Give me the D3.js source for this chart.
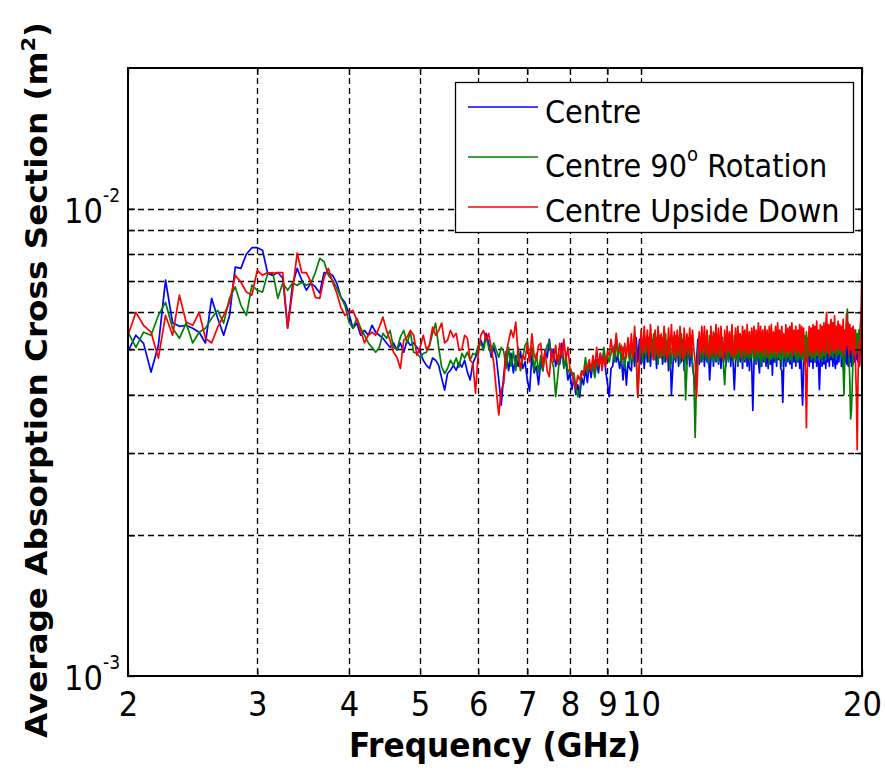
<!DOCTYPE html>
<html>
<head>
<meta charset="utf-8">
<script src="https://cdn.jsdelivr.net/npm/d3@7"></script>
<style>
  html, body { margin: 0; padding: 0; background: #fff; }
  svg { display: block; }
  text { font-family: "DejaVu Sans Condensed", "DejaVu Sans", sans-serif; fill: #000; }
</style>
</head>
<body>
<svg id="chart" width="885" height="771"></svg>
<script>
// Frequency sweep, 2–20 GHz in 0.05 GHz steps
const freqGHz = d3.range(361).map(i => +(2 + i * 0.05).toFixed(2));

// Average absorption cross section, in units of 1e-3 m^2
const centre = [
  4.95, 5.36, 5.15, 4.47, 5.1, 7.03, 5.7, 5.6, 5.63, 5.55, 5.44, 5.16, 6.43, 5.83, 5.36, 5.91, 7.5, 7.45, 8.0, 8.25,
  8.25, 8.15, 7.27, 7.2, 7.3, 7.1, 5.55, 6.86, 7.45, 7.03, 6.69, 6.93, 6.8, 6.6, 7.3, 7.27, 7.2, 6.93, 6.46, 6.3,
  5.97, 5.55, 5.69, 5.36, 5.49, 5.36, 5.63, 5.44,
  5.36, 5.28, 5.16, 5.05, 5.16, 4.98, 5.16, 4.93, 5.23, 5.1, 5.16, 5.05, 4.93, 4.74, 4.62, 4.55, 4.79, 4.74, 4.62, 4.34,
  4.09, 4.44, 4.51, 4.62, 4.51, 4.69, 4.58, 4.74, 4.47, 4.3, 4.67, 4.81, 4.98, 5.23, 5.05, 5.41, 5.16, 4.81, 5.05, 4.81,
  4.3, 3.8,
  4.4, 4.95, 4.5, 4.9, 4.45, 4.85, 4.6, 4.95, 4.55, 4.7, 4.3, 4.07, 4.85, 4.45, 4.6, 4.2, 4.7, 4.5, 5.0, 4.8,
  5.25, 4.8, 5.0, 4.6, 4.85, 4.65, 5.15, 4.6, 4.7, 4.3, 4.45, 4.1, 4.35, 4.0, 4.2, 3.95, 4.35, 4.2, 4.55, 4.25,
  4.65, 4.35, 4.7, 4.4, 4.75, 4.45, 4.9, 4.65, 4.95, 4.5, 4.23, 3.96, 4.55, 4.6, 5.1, 4.7, 4.85, 4.55, 4.8, 4.3,
  4.8, 4.19, 4.7, 4.55,
  4.5, 5.1, 4.6, 5.3, 4.7, 5.25, 4.65, 5.2, 4.55, 5.15,
  4.7, 5.3, 4.6, 5.25, 4.75, 5.2, 4.55, 5.3, 4.8, 5.1,
  4.65, 5.25, 4.7, 5.2, 4.5, 5.1, 4.0, 4.6, 5.2, 4.7,
  5.3, 4.6, 5.15, 4.7, 5.25, 4.5, 5.1, 4.65, 5.2, 4.6,
  5.1, 4.6, 4.4, 4.1, 4.7, 5.25, 4.65, 5.3, 4.7, 5.15,
  4.6, 5.25, 4.7, 5.1, 4.3, 4.75, 5.3, 4.6, 5.2, 4.7,
  5.25, 4.65, 5.15, 4.55, 5.3, 4.7, 5.2, 4.6, 5.25, 4.75,
  5.1, 4.6, 5.2, 4.65, 4.1, 4.7, 5.25, 4.6, 5.3, 4.7,
  5.15, 4.55, 5.25, 4.7, 5.3, 4.6, 5.1, 4.5, 5.2, 4.65,
  3.7, 4.6, 5.2, 4.65, 5.3, 4.7, 4.45, 5.15, 4.6, 5.25,
  4.7, 5.3, 4.6, 5.2, 4.55, 5.25, 4.65, 5.1, 4.4, 5.2,
  4.7, 5.25, 4.6, 5.3, 4.75, 5.15, 4.55, 4.5, 3.85, 4.7,
  5.25, 4.6, 5.2, 4.7, 5.3, 4.65, 5.15, 4.55, 5.25, 4.7,
  5.2, 4.6, 5.3, 4.7, 5.1, 4.55, 5.25, 4.3, 3.8, 4.6,
  5.2, 4.65, 5.3, 4.7, 5.15, 4.6, 5.25, 4.7, 5.2, 4.55,
  5.3, 4.7, 5.1, 4.6, 5.25, 4.65, 4.1, 4.7, 5.2, 4.6,
  5.3, 4.65, 5.25, 4.55, 5.2, 4.7, 5.35, 4.6, 5.15, 4.75,
  5.25, 4.6, 5.3, 4.7, 4.55, 5.2, 4.65, 5.3, 4.7, 5.15,
  5.35, 4.6, 5.2, 4.55, 5.25, 4.7, 5.3, 4.65, 5.2, 4.6,
  5.25, 4.7, 5.35, 4.6, 5.2, 4.65, 5.3, 4.7, 5.15, 4.75,
  5.2, 4.7, 5.3, 4.65, 5.25, 4.9, 5.3
];

const centreRot90 = [
  5.44, 5.05, 5.44, 5.36, 5.91, 6.3, 5.55, 5.28, 5.69, 5.16, 5.44, 5.55, 5.83, 6.06, 5.69, 6.43, 6.8, 6.21, 5.91, 6.86,
  6.69, 6.63, 7.27, 7.3, 6.43, 6.93, 6.69, 6.93, 6.86, 6.96, 6.86, 6.93, 7.3, 7.83, 7.7, 7.2, 7.03, 6.76, 6.46, 6.21,
  5.72, 5.55, 5.83, 5.55, 5.36, 5.16, 5.05, 4.93,
  5.05, 5.41, 5.28, 5.49, 5.05, 5.0, 5.31, 5.49, 5.16, 5.44, 4.93, 4.9, 4.81, 4.9, 4.93, 5.1, 5.41, 5.69, 5.05, 4.58,
  4.44, 4.55, 4.74, 4.62, 4.79, 4.58, 4.9, 4.79, 4.93, 4.74, 4.9, 4.86, 5.1, 5.16, 4.98, 5.31, 5.05, 4.9, 5.16, 4.98,
  4.81, 5.05,
  4.95, 4.55, 5.05, 4.6, 4.95, 4.5, 5.05, 4.5, 4.8, 5.1, 5.2, 4.7, 5.05, 4.5, 4.9, 4.45, 4.85, 4.5, 4.9, 5.1,
  5.2, 4.75, 4.58, 3.96, 4.37, 4.85, 4.95, 4.55, 4.85, 4.45, 4.55, 4.4, 4.45, 4.16, 3.96, 4.1, 4.5, 4.45, 4.8, 4.45,
  4.6, 4.5, 4.65, 4.35, 4.7, 4.6, 4.75, 4.6, 5.05, 4.7, 4.85, 4.7, 4.9, 5.05, 4.7, 5.25, 4.8, 5.15, 4.65, 5.05,
  4.55, 4.95, 5.1, 4.65,
  5.2, 4.7, 5.35, 4.8, 3.95, 4.75, 5.3, 4.7, 5.4, 4.8,
  5.35, 4.7, 5.25, 4.85, 5.4, 4.75, 5.3, 4.65, 5.35, 4.8,
  5.3, 4.7, 5.4, 4.8, 5.25, 4.55, 4.7, 5.3, 4.75, 5.35,
  4.8, 5.3, 4.65, 5.4, 4.75, 5.25, 3.9, 4.6, 5.3, 4.8,
  5.35, 4.7, 4.4, 3.24, 4.3, 4.9, 5.35, 4.7, 5.3, 4.8,
  5.4, 4.75, 5.3, 4.65, 5.35, 4.8, 5.25, 4.7, 5.4, 4.75,
  5.3, 4.7, 5.35, 4.8, 5.25, 4.6, 4.2, 4.75, 5.3, 4.7,
  5.4, 4.8, 5.3, 4.7, 5.35, 4.75, 5.25, 4.65, 5.4, 4.8,
  5.3, 4.7, 5.45, 4.75, 5.3, 4.8, 5.35, 4.7, 5.25, 4.8,
  5.4, 4.75, 5.3, 4.65, 5.35, 4.8, 5.45, 4.6, 5.3, 4.75,
  5.35, 4.7, 5.4, 4.8, 5.3, 4.65, 5.35, 4.75, 5.4, 4.8,
  5.3, 4.7, 5.45, 4.8, 5.35, 4.75, 5.3, 4.6, 5.4, 4.8,
  5.35, 4.7, 5.3, 4.8, 5.45, 4.75, 5.35, 4.7, 5.3, 4.85,
  5.4, 4.75, 5.35, 4.7, 5.45, 4.8, 5.3, 4.75, 5.4, 4.7,
  5.35, 4.8, 5.45, 4.7, 5.3, 4.85, 5.4, 4.75, 5.35, 4.8,
  5.45, 4.7, 5.35, 4.85, 5.4, 4.75, 5.3, 4.8, 5.5, 4.7,
  5.4, 4.85, 5.5, 4.75, 5.35, 4.9, 5.45, 4.8, 5.55, 4.85,
  5.4, 4.8, 5.55, 4.9, 5.45, 4.75, 5.5, 4.85, 5.4, 4.9,
  5.5, 4.8, 5.45, 4.6, 4.0, 4.7, 5.3, 5.6, 6.1, 5.3,
  4.8, 4.3, 3.55, 3.7, 4.2, 4.9, 5.4, 4.85, 5.5, 4.9,
  5.4, 5.0, 5.5, 5.1, 5.6, 5.9, 6.1
];

const centreUpsideDown = [
  5.36, 6.0, 5.63, 5.44, 4.79, 5.91, 5.36, 6.53, 5.72, 5.63, 6.0, 5.28, 5.16, 5.58, 5.91, 6.3, 7.2, 6.96, 6.63, 6.53,
  7.38, 7.2, 7.3, 7.27, 7.3, 7.3, 5.55, 6.63, 8.03, 7.3, 7.3, 6.96, 6.46, 6.43, 7.13, 7.45, 6.96, 6.6, 6.15, 5.91,
  6.0, 6.06, 5.77, 5.49, 5.16, 5.36, 5.44, 5.36,
  5.58, 5.86, 5.49, 5.23, 4.93, 4.81, 4.55, 5.23, 5.31, 5.49, 5.36, 4.86, 5.05, 5.36, 5.0, 5.1, 5.58, 5.36, 5.49, 5.69,
  5.16, 5.23, 5.49, 5.31, 5.41, 4.98, 5.0, 5.36, 5.28, 4.74, 4.67, 4.03, 4.9, 5.36, 5.49, 5.23, 5.41, 5.05, 4.67, 4.09,
  3.62, 4.09,
  4.23, 4.9, 5.2, 5.5, 5.3, 5.72, 4.9, 4.55, 4.85, 4.75, 5.15, 4.7, 5.4, 4.85, 4.75, 5.1, 5.15, 4.6, 4.95, 4.5,
  4.37, 5.0, 4.7, 5.1, 4.65, 5.15, 4.8, 5.25, 4.75, 5.05, 4.55, 4.47, 4.23, 4.13, 4.4, 4.3, 4.5, 4.4, 4.6, 4.55,
  4.75, 4.5, 4.85, 4.55, 5.05, 4.6, 4.9, 4.5, 4.85, 4.6, 4.95, 4.85, 5.25, 4.95, 4.9, 5.41, 5.0, 4.95, 5.1, 4.75,
  5.15, 4.8, 5.3, 4.85,
  5.4, 4.8, 5.6, 4.85, 3.95, 4.7, 5.5, 4.9, 5.6, 4.95,
  5.5, 4.8, 5.65, 5.0, 4.75, 5.5, 4.9, 5.6, 4.8, 5.4,
  4.85, 5.6, 4.95, 4.75, 5.55, 4.85, 5.65, 4.9, 5.45, 4.8,
  5.5, 4.85, 5.6, 4.95, 4.75, 5.55, 4.85, 5.4, 4.9, 5.55,
  4.85, 5.5, 5.0, 4.7, 3.95, 4.6, 5.45, 4.9, 5.6, 4.95,
  5.6, 4.85, 5.5, 4.95, 4.8, 5.6, 4.9, 5.45, 4.85, 5.65,
  4.9, 5.55, 4.8, 5.6, 5.0, 4.75, 5.5, 4.9, 5.6, 4.95,
  5.45, 4.85, 5.65, 4.9, 4.8, 5.55, 4.9, 5.6, 5.0, 5.4,
  4.8, 5.6, 4.95, 5.5, 4.85, 5.65, 4.9, 5.45, 4.9, 5.55,
  5.0, 5.6, 4.85, 5.5, 4.95, 5.7, 4.9, 5.6, 4.95, 5.5,
  4.85, 5.6, 5.0, 5.5, 4.8, 5.6, 4.95, 5.65, 4.9, 5.45,
  4.95, 5.6, 4.85, 5.7, 4.95, 5.5, 4.9, 5.6, 5.0, 5.4,
  4.85, 5.65, 4.95, 5.55, 4.9, 5.6, 4.95, 5.7, 4.85, 5.5,
  5.0, 5.6, 4.9, 5.5, 4.95, 5.65, 4.85, 5.6, 4.95, 5.55,
  4.9, 4.5, 3.4, 4.6, 5.25, 5.6, 4.95, 5.55, 4.85, 5.65,
  4.95, 5.6, 4.9, 5.75, 5.0, 5.5, 4.85, 5.65, 4.95, 5.6,
  5.0, 5.7, 4.9, 5.6, 6.0, 4.95, 5.65, 4.85, 5.6, 5.8,
  4.95, 5.7, 5.0, 5.9, 4.9, 5.6, 5.0, 5.75, 5.05, 5.65,
  4.95, 5.6, 5.0, 5.8, 4.85, 5.5, 5.0, 5.95, 5.1, 5.7,
  4.9, 5.65, 5.0, 5.55, 4.85, 5.6, 4.95, 5.5, 4.6, 4.0,
  3.05, 4.3, 5.2, 4.6, 5.5, 6.2, 7.8
];

const seriesNames = ["Centre", "Centre 90", "Centre Upside Down"];
const seriesColors = ["#0000ff", "#008000", "#ff0000"];
const unit = 1e-3;

const xTicks = [2, 3, 4, 5, 6, 7, 8, 9, 10, 20];
const xTickLabels = ["2", "3", "4", "5", "6", "7", "8", "9", "10", "20"];
const yMajorTicks = [1e-3, 1e-2];
const yMajorExponents = ["-3", "-2"];
const yMinorTicks = [2e-3, 3e-3, 4e-3, 5e-3, 6e-3, 7e-3, 8e-3, 9e-3, 1e-2];

const svg = d3.select("#chart");
const plotL = 128, plotR = 862, plotT = 68, plotB = 676;

const x = d3.scaleLog().domain([2, 20]).range([plotL, plotR]);
const y = d3.scaleLog().domain([1e-3, 2e-2]).range([plotB, plotT]);

svg.append("rect").attr("width", 885).attr("height", 771).attr("fill", "#fff");

// Dashed grid
const grid = svg.append("g").attr("stroke", "#000").attr("stroke-width", 1.3)
  .attr("stroke-dasharray", "6,4").attr("fill", "none");
grid.selectAll("line.gx").data(xTicks.filter(d => d > 2 && d < 20)).join("line")
  .attr("class", "gx")
  .attr("x1", d => Math.round(x(d)) + 0.5).attr("x2", d => Math.round(x(d)) + 0.5)
  .attr("y1", plotT).attr("y2", plotB);
grid.selectAll("line.gy").data(yMinorTicks).join("line")
  .attr("class", "gy")
  .attr("x1", plotL).attr("x2", plotR)
  .attr("y1", d => Math.round(y(d)) + 0.5).attr("y2", d => Math.round(y(d)) + 0.5);

// Data lines
const line = d3.line()
  .x((d, i) => x(freqGHz[i]))
  .y(d => y(d * unit));

const allSeries = [centre, centreRot90, centreUpsideDown];
svg.append("clipPath").attr("id", "plotClip")
  .append("rect").attr("x", plotL).attr("y", plotT).attr("width", plotR - plotL).attr("height", plotB - plotT);
svg.append("g").attr("clip-path", "url(#plotClip)")
  .selectAll("path").data(allSeries).join("path")
  .attr("d", line)
  .attr("fill", "none")
  .attr("stroke", (d, i) => seriesColors[i])
  .attr("stroke-width", 1.7)
  .attr("stroke-linejoin", "round");

// Axes with inward ticks on all four sides
const tickLen = 7;
const axes = svg.append("g");
const bottomAxis = axes.append("g").attr("transform", `translate(0,${plotB})`)
  .call(d3.axisBottom(x).tickValues(xTicks).tickSizeInner(-tickLen).tickSizeOuter(0).tickPadding(16)
    .tickFormat((d, i) => xTickLabels[i]));
axes.append("g").attr("transform", `translate(0,${plotT})`)
  .call(d3.axisTop(x).tickValues(xTicks).tickSizeInner(-tickLen).tickSizeOuter(0).tickFormat(""));
axes.append("g").attr("transform", `translate(${plotL},0)`)
  .call(d3.axisLeft(y).tickValues(yMinorTicks.concat([1e-3])).tickSizeInner(-tickLen).tickSizeOuter(0).tickFormat(""));
axes.append("g").attr("transform", `translate(${plotR},0)`)
  .call(d3.axisRight(y).tickValues(yMinorTicks.concat([1e-3])).tickSizeInner(-tickLen).tickSizeOuter(0).tickFormat(""));
axes.selectAll(".domain").remove();
axes.selectAll(".tick line").attr("stroke", "#000").attr("stroke-width", 1.3);

bottomAxis.selectAll(".tick text")
  .attr("font-family", "'DejaVu Sans Condensed', 'DejaVu Sans', sans-serif")
  .attr("font-size", 34).attr("fill", "#000").attr("dy", "0.71em");

// Box
svg.append("rect").attr("x", plotL).attr("y", plotT).attr("width", plotR - plotL).attr("height", plotB - plotT)
  .attr("fill", "none").attr("stroke", "#000").attr("stroke-width", 2);

// Decade labels on the y axis
const yLab = svg.append("g");
yMajorTicks.forEach((v, i) => {
  yLab.append("text")
    .attr("x", 103).attr("y", y(v) + 14)
    .attr("text-anchor", "end").attr("font-size", 34).text("10");
  yLab.append("text")
    .attr("x", 103).attr("y", y(v) - 7)
    .attr("font-size", 19).text(yMajorExponents[i]);
});

// Axis titles
svg.append("text")
  .attr("x", (plotL + plotR) / 2).attr("y", 757)
  .attr("text-anchor", "middle")
  .attr("font-size", 34).attr("font-weight", "bold")
  .attr("textLength", 292).attr("lengthAdjust", "spacingAndGlyphs")
  .text("Frequency (GHz)");

const yTitle = svg.append("text")
  .attr("transform", "translate(47,380) rotate(-90)")
  .attr("text-anchor", "middle")
  .attr("font-size", 31).attr("font-weight", "bold")
  .attr("textLength", 716).attr("lengthAdjust", "spacingAndGlyphs");
yTitle.append("tspan").text("Average Absorption Cross Section (m");
yTitle.append("tspan").attr("font-size", 20).attr("dy", -12).text("2");
yTitle.append("tspan").attr("dy", 12).text(")");

// Legend
const lg = svg.append("g");
lg.append("rect").attr("x", 455.5).attr("y", 82.5).attr("width", 398).attr("height", 150)
  .attr("fill", "#fff").attr("stroke", "#000").attr("stroke-width", 1.3);
const legendY = [107, 157, 207];
const legendBase = [123, 177, 222];
seriesNames.forEach((name, i) => {
  lg.append("line").attr("x1", 468).attr("x2", 538).attr("y1", legendY[i]).attr("y2", legendY[i])
    .attr("stroke", seriesColors[i]).attr("stroke-width", 1.3);
  const t = lg.append("text").attr("x", 545).attr("y", legendBase[i]).attr("font-size", 32);
  if (i === 1) {
    t.append("tspan").text("Centre 90");
    t.append("tspan").attr("font-size", 20).attr("dy", -16).text("o");
    t.append("tspan").attr("dy", 16).text(" Rotation");
  } else {
    t.text(name);
  }
});
</script>
</body>
</html>
